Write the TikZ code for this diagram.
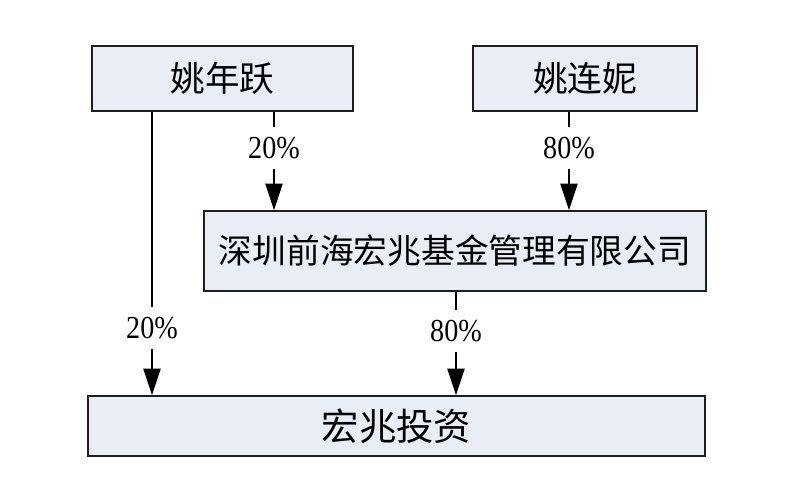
\documentclass[tikz,border=0pt]{standalone}
\usepackage{fontspec}
\setmainfont{Liberation Serif}
\newfontfamily\cjk{Noto Sans CJK SC}
\newfontfamily\pctfont[FakeStretch=0.88]{Liberation Serif}
\usetikzlibrary{arrows.meta}
\definecolor{boxfill}{RGB}{233,237,246}
\definecolor{boxline}{RGB}{30,30,30}
\tikzset{
  holder/.style={draw=boxline,line width=1.1pt,fill=boxfill,inner sep=0pt},
  share/.style={inner sep=0pt,minimum height=31pt,font=\pctfont\fontsize{24}{24}\selectfont},
  stake/.style={line width=1pt,black},
  stakearrow/.style={stake,-{Triangle[length=20pt,width=13pt]}}
}

\begin{document}
\begin{tikzpicture}[x=0.75pt,y=-0.75pt]
    \useasboundingbox (0,0) rectangle (800,489);

    \node[holder,minimum width=195.75pt,minimum height=48.75pt,font=\cjk\fontsize{26}{26}\selectfont] (1) at (222.5,78.5) {姚年跃};
    \node[holder,minimum width=168pt,minimum height=48.75pt,font=\cjk\fontsize{26}{26}\selectfont] (2) at (585,78.5) {姚连妮};
    \node[holder,minimum width=376.5pt,minimum height=60pt,font=\cjk\fontsize{25.3}{26}\selectfont] (3) at (455,251) {深圳前海宏兆基金管理有限公司};
    \node[holder,minimum width=462.75pt,minimum height=45pt,font=\cjk\fontsize{28}{28}\selectfont] (4) at (396.5,426) {宏兆投资};

    \node[share] (5) at (274,148) {20\%};
    \node[share] (6) at (569,148) {80\%};
    \node[share] (7) at (152,328) {20\%};
    \node[share] (8) at (456,331) {80\%};

    \draw[stake] (1.south -| 5) -- (5.north);
    \draw[stakearrow] (5.south) -- (3.north -| 5);
    \draw[stake] (2.south -| 6) -- (6.north);
    \draw[stakearrow] (6.south) -- (3.north -| 6);
    \draw[stake] (1.south -| 7) -- (7.north);
    \draw[stakearrow] (7.south) -- (4.north -| 7);
    \draw[stake] (3.south -| 8) -- (8.north);
    \draw[stakearrow] (8.south) -- (4.north -| 8);
\end{tikzpicture}
\end{document}
